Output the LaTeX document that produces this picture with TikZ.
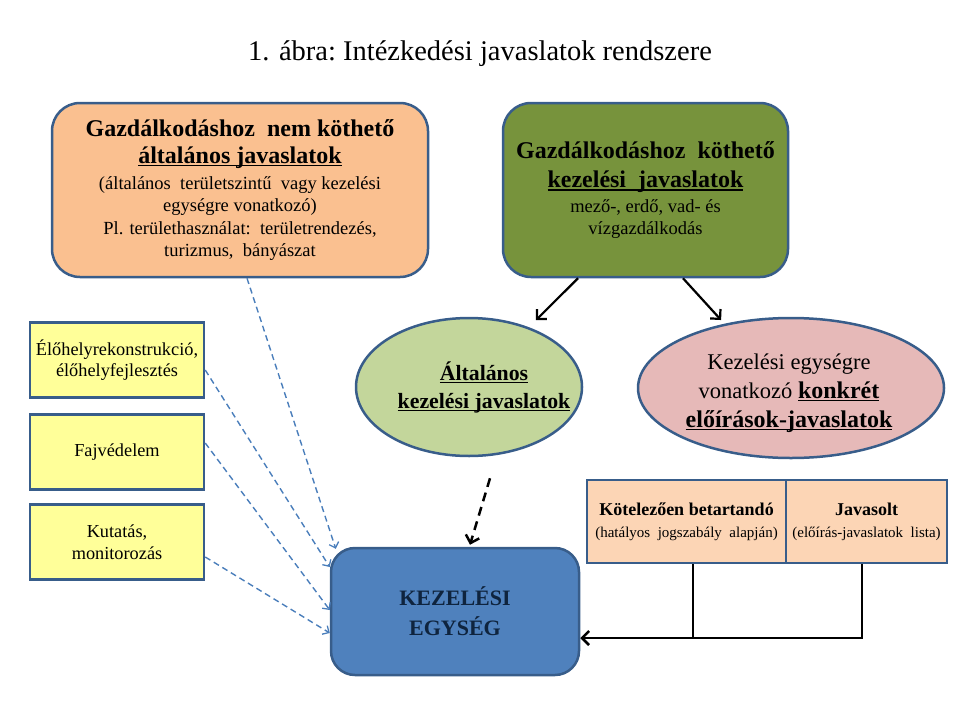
\documentclass[tikz,border=0pt]{standalone}
\usepackage{fontspec}
\setmainfont{Liberation Serif}
\usetikzlibrary{shapes.geometric,arrows.meta,calc}
\definecolor{bord}{HTML}{385D8A}
\definecolor{orangef}{HTML}{FAC090}
\definecolor{olivef}{HTML}{77933C}
\definecolor{lgreen}{HTML}{C3D69B}
\definecolor{pinkf}{HTML}{E6B9B8}
\definecolor{yellowf}{HTML}{FFFF99}
\definecolor{bluef}{HTML}{4F81BD}
\definecolor{peachf}{HTML}{FCD5B5}
\definecolor{dashblue}{HTML}{4A7EBB}
\definecolor{navy}{HTML}{0F243E}
\newcommand\myul[1]{\setbox0\hbox{#1}\rlap{\raisebox{-3.2pt}{\rule{\wd0}{1.5pt}}}\box0}
\newcommand\fs[1]{\fontsize{#1}{#1}\selectfont}
\tikzset{
  bigbox/.style={draw=bord, line width=2.5pt, rounded corners=28pt, align=center, inner sep=0pt},
  smallbox/.style={draw=bord, line width=2.5pt, fill=yellowf, minimum width=174pt, minimum height=75pt, align=center, inner sep=0pt,
    font=\fontsize{18.3}{21.5}\selectfont},
  ellbox/.style={draw=bord, line width=2.5pt, ellipse, inner sep=0pt},
  elltext/.style={align=center, inner sep=0pt},
  cellbox/.style={draw=bord, line width=2.5pt, fill=peachf, minimum height=83pt, align=center, inner sep=0pt},
  blackarrow/.style={line width=2.2pt, -{Straight Barb[length=7pt,width=14pt,line width=2.2pt]}},
  bluedash/.style={draw=dashblue, line width=1.4pt, dash pattern=on 6pt off 4pt, -{Straight Barb[length=5pt,width=10pt,line width=1.3pt]}},
}
\begin{document}
\begin{tikzpicture}[x=1pt,y=-1pt]
\useasboundingbox (0,0) rectangle (960,720);
\node[font=\fontsize{28.5}{32}\selectfont] (title) at (480,54) {1. ábra:\ Intézkedési\ javaslatok\ rendszere};

\node[bigbox, fill=orangef, minimum width=376pt, minimum height=174pt, font=\fontsize{18.5}{22.5}\selectfont] (orange) at (240,190)
  {\fs{24}\bfseries Gazdálkodáshoz\ \ nem köthető\\[4.5pt]
   \fs{24}\bfseries\myul{általános javaslatok}\\[3.5pt]
   (általános\ \ területszintű\ \ vagy kezelési\\
   egységre vonatkozó)\\
   Pl. területhasználat:\ \ területrendezés,\\
   turizmus,\ \ bányászat};

\node[bigbox, fill=olivef, minimum width=285pt, minimum height=174pt, font=\fontsize{18.5}{22}\selectfont] (green) at (645.5,190)
  {\fs{24}\bfseries Gazdálkodáshoz\ \ köthető\\[7pt]
   \fs{24}\bfseries\myul{kezelési\ \ javaslatok}\\[3pt]
   mező-, erdő, vad- és\\
   vízgazdálkodás};

\node[ellbox, fill=lgreen, minimum width=226pt, minimum height=138pt] (ell1) at (469,387) {};
\node[elltext, font=\fontsize{21.8}{28}\selectfont\bfseries] (ell1text) at (484,387)
  {\myul{Általános}\\
   \myul{kezelési\ javaslatok}};

\node[ellbox, fill=pinkf, minimum width=306pt, minimum height=140pt] (ell2) at (791,388) {};
\node[elltext, font=\fontsize{22.5}{29}\selectfont] (ell2text) at (789,393)
  {Kezelési egységre\\
   vonatkozó \fs{24}\bfseries\myul{konkrét}\\
   \fs{24}\bfseries\myul{előírások-javaslatok}};

\node[smallbox] (y1) at (117,360) {Élőhelyrekonstrukció,\\élőhelyfejlesztés};
\node[smallbox] (y2) at (117,452) {Fajvédelem};
\node[smallbox] (y3) at (117,542) {Kutatás,\\monitorozás};

\node[bigbox, fill=bluef, rounded corners=24pt, minimum width=248pt, minimum height=127pt, text=navy, font=\fontsize{22}{30}\selectfont\bfseries] (kez) at (455,611.5)
  {KEZELÉSI\\EGYSÉG};

\node[cellbox, minimum width=199pt, font=\fontsize{15}{22}\selectfont] (kot) at (686.5,521.5)
  {\fs{18}\bfseries Kötelezően betartandó\\
   (hatályos\ \ jogszabály\ \ alapján)};
\node[cellbox, minimum width=161pt, font=\fontsize{15}{22}\selectfont] (jav) at (866.5,521.5)
  {\fs{18}\bfseries Javasolt\\
   (előírás-javaslatok\ \ lista)};

% black arrows
\draw[blackarrow, shorten >=10pt] ([xshift=-67.5pt]green.south) -- (ell1.45);
\draw[blackarrow, shorten >=5pt] ([xshift=37.5pt]green.south) -- (ell2.136);
\draw[line width=2.5pt, dash pattern=on 9pt off 6pt, -{Straight Barb[length=7pt,width=14pt,line width=2.5pt]}]
  ([xshift=21pt,yshift=-21pt]ell1.south) -- ([xshift=15pt,yshift=2pt]kez.north);

% blue dashed arrows
\draw[bluedash] ([xshift=7pt]orange.south) -- ([xshift=6pt,yshift=-2pt]kez.north west);
\draw[bluedash] ([yshift=-10pt]y1.east) -- ([yshift=44.5pt]kez.west);
\draw[bluedash] ([yshift=9pt]y2.east) -- ([yshift=1.5pt]kez.west);
\draw[bluedash] ([yshift=-15pt]y3.east) -- ([yshift=-21.5pt]kez.west);

% connector lines from peach boxes
\draw[line width=2.5pt] ([xshift=6.5pt]kot.south) -- ++(0,75);
\draw[line width=2.5pt, -{Straight Barb[length=7pt,width=14pt,line width=2.5pt]}] ([xshift=-4.5pt]jav.south) |- ([yshift=-26.5pt]kez.east);
\end{tikzpicture}
\end{document}
